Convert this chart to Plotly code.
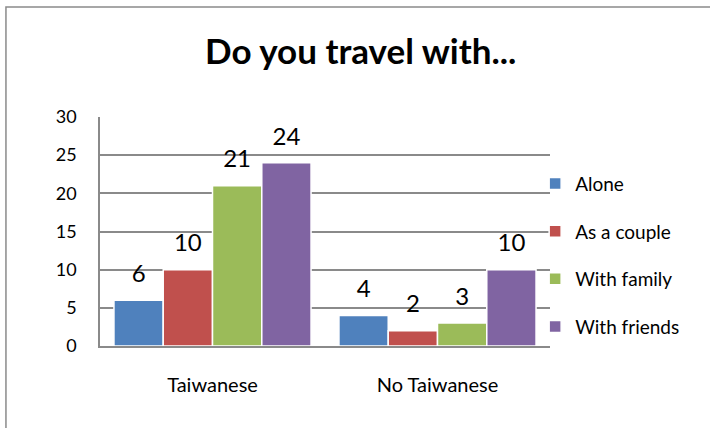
import plotly.graph_objects as go

# Survey: who do respondents travel with, split by nationality
groups = ["Taiwanese", "No Taiwanese"]
series_names = ["Alone", "As a couple", "With family", "With friends"]
alone = [6, 4]
couple = [10, 2]
family = [21, 3]
friends = [24, 10]
y_ticks = [0, 5, 10, 15, 20, 25, 30]

colors = ["#4F81BD", "#C0504D", "#9BBB59", "#8064A2"]
FONT = "Lato"
GRID = "#8a8a8a"

fig = go.Figure()
all_values = [alone, couple, family, friends]
for i, (name, vals) in enumerate(zip(series_names, all_values)):
    fig.add_trace(go.Bar(
        x=groups, y=vals, name=name,
        marker=dict(color=colors[i], line=dict(color="white", width=1.5)),
        offsetgroup=str(i), legendgroup=str(i),
        hoverinfo="skip",
    ))

# value labels floated above each bar, grouped the same way as the bars
for i, (name, vals) in enumerate(zip(series_names, all_values)):
    fig.add_trace(go.Scatter(
        x=groups, y=vals, mode="markers+text",
        text=[str(v) for v in vals], textposition="top center",
        textfont=dict(family=FONT, size=24, color="#000000"),
        marker=dict(size=18, opacity=0),
        offsetgroup=str(i), showlegend=False, hoverinfo="skip",
        cliponaxis=False,
    ))

fig.update_layout(
    width=710, height=428,
    margin=dict(l=100, r=160, t=117, b=82),
    paper_bgcolor="white", plot_bgcolor="white",
    barmode="group", bargap=0.124, bargroupgap=0,
    scattermode="group", scattergap=0.124,
    font=dict(family=FONT, color="#000000"),
    title=dict(text="<b>Do you travel with...</b>", x=0.508, xref="container",
               xanchor="center", y=1 - 52 / 428, yanchor="middle",
               font=dict(family=FONT, size=35, color="#000000")),
    showlegend=True,
    legend=dict(x=0.967, xanchor="left", y=0.397, yanchor="middle",
                font=dict(family=FONT, size=19, color="#000000"),
                tracegroupgap=20, traceorder="grouped",
                bgcolor="rgba(0,0,0,0)", itemclick=False),
    xaxis=dict(showline=True, linecolor=GRID, linewidth=1.5,
               showgrid=False, ticks="", ticklabelstandoff=20,
               tickfont=dict(family=FONT, size=20, color="#000000")),
    yaxis=dict(range=[0, 30], tickvals=y_ticks, showline=True,
               linecolor=GRID, linewidth=1.5, showgrid=True,
               gridcolor=GRID, gridwidth=1.5, zeroline=False, ticks="",
               ticklabelstandoff=18,
               tickfont=dict(family=FONT, size=18, color="#000000")),
    shapes=[dict(type="rect", xref="paper", yref="paper",
                 x0=-0.209, x1=1.5, y0=-0.4, y1=1.48,
                 line=dict(color="#8a8a8a", width=1.5), layer="below")],
)

fig.write_html("out.html")
